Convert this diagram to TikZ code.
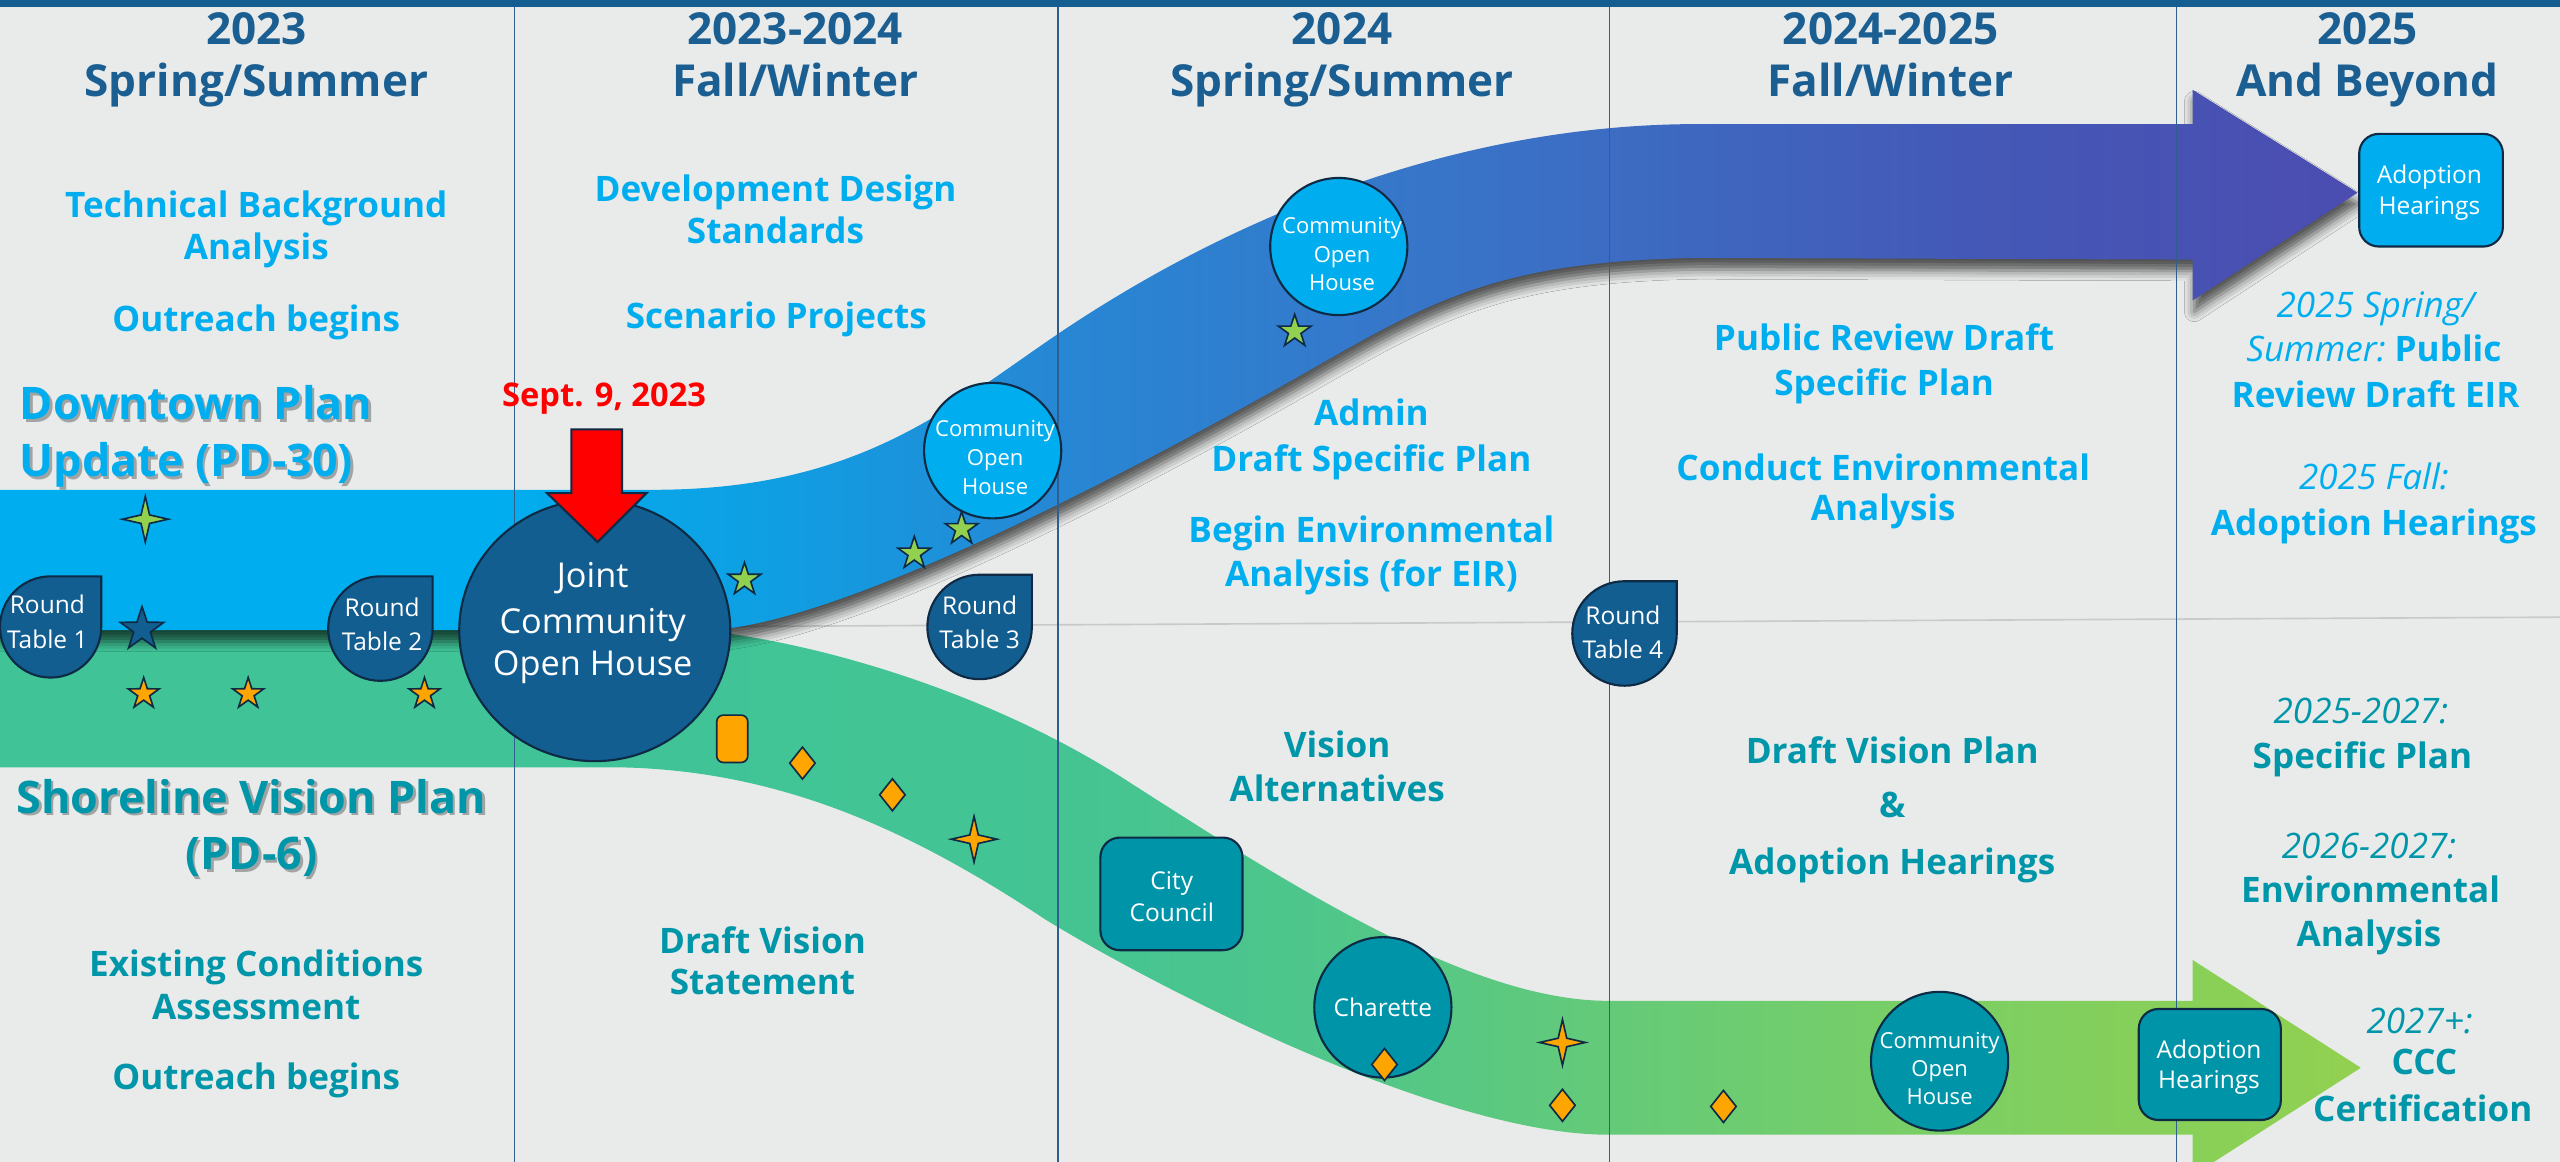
\documentclass[tikz,border=0pt]{standalone}
\usepackage{fontspec}
\setmainfont{Open Sans}
\usetikzlibrary{shapes.geometric,shadows.blur}
\definecolor{bg}{HTML}{E9EBEA}
\definecolor{bar}{HTML}{135D90}
\definecolor{hdr}{HTML}{1A5E92}
\definecolor{cyanT}{HTML}{00AEEF}
\definecolor{tealT}{HTML}{0096A9}
\definecolor{dkblue}{HTML}{135E91}
\definecolor{tealF}{HTML}{0094A8}
\definecolor{outl}{HTML}{0E2A44}
\definecolor{orng}{HTML}{FFA500}
\definecolor{lgreen}{HTML}{92D050}
\definecolor{vline}{HTML}{2F5F8F}
\definecolor{hline}{HTML}{C8CACA}
\definecolor{b0}{HTML}{00AEEF}
\definecolor{b1}{HTML}{0DA1E4}
\definecolor{b2}{HTML}{2787D4}
\definecolor{b3}{HTML}{3677CA}
\definecolor{b4}{HTML}{3D6BC2}
\definecolor{b5}{HTML}{4459B7}
\definecolor{b6}{HTML}{4B4DB0}
\definecolor{g0}{HTML}{40C497}
\definecolor{g1}{HTML}{44C493}
\definecolor{g2}{HTML}{4EC68B}
\definecolor{g3}{HTML}{64CA79}
\definecolor{g4}{HTML}{7CCF63}
\definecolor{g5}{HTML}{92D050}
\pgfdeclarehorizontalshading{blueband}{100bp}{color(0bp)=(b0); color(25bp)=(b0); color(35.4bp)=(b0); color(40.6bp)=(b1); color(47.5bp)=(b2); color(54.4bp)=(b3); color(59.6bp)=(b4); color(66.6bp)=(b5); color(75bp)=(b6); color(100bp)=(b6)}
\pgfdeclarehorizontalshading{greenband}{100bp}{color(0bp)=(g0); color(25bp)=(g0); color(39.9bp)=(g0); color(47.5bp)=(g1); color(52.7bp)=(g2); color(59.1bp)=(g3); color(66.5bp)=(g4); color(75bp)=(g5); color(100bp)=(g5)}
\newcommand{\tdrop}[4]{%
  \coordinate (#1) at (#2,#3);
  \filldraw[fill=dkblue, draw=outl, line width=1.3pt] (#2,#3) ++(0,-#4) -- ++(#4,0) -- ++(0,#4) arc[start angle=0, end angle=270, radius=#4] -- cycle;}
\begin{document}
\begin{tikzpicture}[x=1pt,y=-1pt,
  hd/.style={font=\bfseries\fontsize{27}{30}\selectfont, text=hdr, anchor=base, inner sep=0},
  cb/.style={font=\bfseries\fontsize{21.5}{26}\selectfont, text=cyanT, anchor=base, inner sep=0},
  tb/.style={font=\bfseries\fontsize{21.5}{26}\selectfont, text=tealT, anchor=base, inner sep=0},
  ci/.style={font=\fontsize{21.5}{26}\selectfont, text=cyanT, anchor=base, inner sep=0},
  ti/.style={font=\fontsize{21.5}{26}\selectfont, text=tealT, anchor=base, inner sep=0},
  bigt/.style={font=\bfseries\fontsize{27.5}{30}\selectfont, inner sep=0},
  wj/.style={font=\fontsize{21}{24}\selectfont, text=white, anchor=base, inner sep=0},
  ws/.style={font=\fontsize{13.5}{16}\selectfont, text=white, anchor=base, inner sep=0},
  wl/.style={font=\fontsize{15}{18}\selectfont, text=white, anchor=base, inner sep=0},
  dkcirc/.style={ellipse, fill=dkblue, draw=outl, line width=1.3pt, inner sep=0},
  cycirc/.style={ellipse, fill=cyanT, draw=outl, line width=1.3pt, inner sep=0},
  tlcirc/.style={ellipse, fill=tealF, draw=outl, line width=1.3pt, inner sep=0},
  tlbox/.style={rectangle, rounded corners=12pt, fill=tealF, draw=outl, line width=1.3pt, inner sep=0},
  cybox/.style={rectangle, rounded corners=12pt, fill=cyanT, draw=outl, line width=1.3pt, inner sep=0},
  starfive/.style={star, star points=5, star point ratio=2.6, draw=outl, line width=1pt, inner sep=0},
  starfour/.style={star, star points=4, star point ratio=3.8, draw=outl, line width=1pt, inner sep=0, minimum size=28pt},
  dia/.style={diamond, fill=orng, draw=outl, line width=1pt, inner sep=0, minimum width=16pt, minimum height=20pt},
  vl/.style={draw=vline, line width=0.8pt}
]
\useasboundingbox (0,0) rectangle (1568,711.7);
\fill[bg] (0,0) rectangle (1568,711.7);
\draw[hline, line width=1pt] (0,386) -- (1568,378);

% green band
\shade[shading=greenband] (0,384) -- (400,384) .. controls (480,386) and (600,420) .. (690,478) .. controls (790,542) and (900,613) .. (985,613) -- (1343,613) -- (1343,588) -- (1446,654) -- (1343,720) -- (1343,695) -- (985,695) .. controls (880,695) and (700,600) .. (640,563) .. controls (560,510) and (480,472) .. (380,470) -- (0,470) -- cycle;

% blue band
\shade[shading=blueband, blur shadow={shadow xshift=1pt, shadow yshift=-7pt, shadow blur radius=6pt, shadow opacity=65}] (0,300) -- (400,300) .. controls (520,300) and (575,255) .. (640,210) .. controls (760,127) and (900,76) .. (1040,76) -- (1343,76) -- (1343,55) -- (1444,118) -- (1343,184) -- (1343,159) -- (1040,158) .. controls (920,160) and (880,182) .. (800,228) .. controls (700,285) and (510,386) .. (430,386) -- (0,386) -- cycle;

% top bar and column lines
\fill[bar] (0,0) rectangle (1568,4.5);
\draw[vl] (315,4.5) -- (315,712);
\draw[vl] (648,4.5) -- (648,712);
\draw[vl] (986,4.5) -- (986,712);
\draw[vl] (1333,4.5) -- (1333,712);

% shapes
\node[dkcirc, minimum width=166pt, minimum height=160pt] (joint) at (364.3,386.2) {};
\node[cycirc, minimum width=84pt, minimum height=83pt] (coh1) at (608,276) {};
\node[cycirc, minimum width=84pt, minimum height=84pt] (coh2) at (820,151) {};
\node[tlcirc, minimum width=84pt, minimum height=85pt] (coh3) at (1188,650) {};
\node[tlcirc, minimum width=84pt, minimum height=86pt] (char) at (847,617) {};
\node[tlbox, minimum width=87pt, minimum height=69pt] (city) at (717.5,547.5) {};
\node[tlbox, minimum width=87pt, minimum height=68pt] (ahb) at (1353.5,652) {};
\node[cybox, minimum width=88pt, minimum height=69pt] (aht) at (1489,116.5) {};
\tdrop{rt1}{31}{384}{31}
\tdrop{rt2}{233}{385}{32}
\tdrop{rt3}{600}{384}{32}
\tdrop{rt4}{995}{388}{32}

% red arrow
\filldraw[fill=red, draw=outl, line width=1.3pt] (350,263) -- (381,263) -- (381,302) -- (396,302) -- (366,332) -- (335,302) -- (350,302) -- cycle;

% stars, diamonds
\node[starfour, fill=lgreen] (gs4) at (89,318) {};
\node[starfive, fill=dkblue, minimum size=28pt] (bs5) at (87,385.5) {};
\node[starfive, fill=orng, minimum size=20pt] (os1) at (88,425) {};
\node[starfive, fill=orng, minimum size=20pt] (os2) at (152,425) {};
\node[starfive, fill=orng, minimum size=20pt] (os3) at (260,425) {};
\node[starfive, fill=lgreen, minimum size=21pt] (gs1) at (456,355) {};
\node[starfive, fill=lgreen, minimum size=21pt] (gs2) at (560,339) {};
\node[starfive, fill=lgreen, minimum size=21pt] (gs3) at (589,324) {};
\node[starfive, fill=lgreen, minimum size=21pt] (gs5) at (793,203) {};
\node[starfour, fill=orng] (o4a) at (596.6,514) {};
\node[starfour, fill=orng] (o4b) at (957,638.5) {};
\node[rectangle, rounded corners=4pt, fill=orng, draw=outl, line width=1pt, minimum width=19pt, minimum height=29pt, inner sep=0] (orect) at (448.5,452.5) {};
\node[dia] (d1) at (491.5,467.4) {};
\node[dia] (d2) at (546.6,486.8) {};
\node[dia] (d3) at (848,652) {};
\node[dia] (d4) at (957,677) {};
\node[dia] (d5) at (1055.6,677.7) {};

% node labels
\node[wj] (jt1) at (363,360) {Joint};
\node[wj] (jt2) at (363,388) {Community};
\node[wj] (jt3) at (363,414) {Open House};
\node[ws] (c1a) at (609.5,267.4) {Community};
\node[ws] (c1b) at (609.5,285) {Open};
\node[ws] (c1c) at (609.5,303) {House};
\node[ws] (c2a) at (822,143.3) {Community};
\node[ws] (c2b) at (822,161) {Open};
\node[ws] (c2c) at (822,178) {House};
\node[ws] (c3a) at (1188,642) {Community};
\node[ws] (c3b) at (1188,659.3) {Open};
\node[ws] (c3c) at (1188,676.7) {House};
\node[wl] (cht) at (847,622.6) {Charette};
\node[wl] (cy1) at (717.7,545) {City};
\node[wl] (cy2) at (717.7,564.4) {Council};
\node[wl] (ab1) at (1353,648.4) {Adoption};
\node[wl] (ab2) at (1353,667) {Hearings};
\node[wl] (at1) at (1488,112.6) {Adoption};
\node[wl] (at2) at (1488,131.4) {Hearings};
\node[wl] (r1a) at (29,375.5) {Round};
\node[wl] (r1b) at (29,397) {Table 1};
\node[wl] (r2a) at (234,377.6) {Round};
\node[wl] (r2b) at (234,398.5) {Table 2};
\node[wl] (r3a) at (600,376.6) {Round};
\node[wl] (r3b) at (600,397) {Table 3};
\node[wl] (r4a) at (994,382.7) {Round};
\node[wl] (r4b) at (994,403.2) {Table 4};

% headers
\node[hd] (h1a) at (157,27) {2023};
\node[hd] (h1b) at (157,59) {Spring/Summer};
\node[hd] (h2a) at (487,27) {2023-2024};
\node[hd] (h2b) at (487,59) {Fall/Winter};
\node[hd] (h3a) at (822,27) {2024};
\node[hd] (h3b) at (822,59) {Spring/Summer};
\node[hd] (h4a) at (1158,27) {2024-2025};
\node[hd] (h4b) at (1158,59) {Fall/Winter};
\node[hd] (h5a) at (1450,27) {2025};
\node[hd] (h5b) at (1450,59) {And Beyond};

% column texts, downtown
\node[cb] (t1) at (157,133) {Technical Background};
\node[cb] (t2) at (157,159) {Analysis};
\node[cb] (t3) at (157,203) {Outreach begins};
\node[cb] (t4) at (475,123.5) {Development Design};
\node[cb] (t5) at (475,149) {Standards};
\node[cb] (t6) at (475.5,201) {Scenario Projects};
\node[cb] (t7) at (840,260.7) {Admin};
\node[cb] (t8) at (840,288.8) {Draft Specific Plan};
\node[cb] (t9) at (840,332) {Begin Environmental};
\node[cb] (t10) at (840,359) {Analysis (for EIR)};
\node[cb] (t11) at (1154,214.5) {Public Review Draft};
\node[cb] (t12) at (1154,242) {Specific Plan};
\node[cb] (t13) at (1153.5,294) {Conduct Environmental};
\node[cb] (t14) at (1153.5,319) {Analysis};
\node[ci] (t15) at (1455,194.5) {\itshape 2025 Spring/};
\node[ci] (t16) at (1454,221.5) {\itshape Summer:\upshape\bfseries\ Public};
\node[cb] (t17) at (1455,249.6) {Review Draft EIR};
\node[ci] (t18) at (1454,300) {\itshape 2025 Fall:};
\node[cb] (t19) at (1454,328) {Adoption Hearings};

% shoreline texts
\node[tb] (s1) at (157,598) {Existing Conditions};
\node[tb] (s2) at (157,624.6) {Assessment};
\node[tb] (s3) at (157,667.5) {Outreach begins};
\node[tb] (s4) at (467,583.8) {Draft Vision};
\node[tb] (s5) at (467,609.3) {Statement};
\node[tb] (s6) at (819,463.7) {Vision};
\node[tb] (s7) at (819,491) {Alternatives};
\node[tb] (s8) at (1159,467.4) {Draft Vision Plan};
\node[tb] (s9) at (1159,501) {\&};
\node[tb] (s10) at (1159,535.8) {Adoption Hearings};
\node[ti] (s11) at (1446,443) {\itshape 2025-2027:};
\node[tb] (s12) at (1447,470.6) {Specific Plan};
\node[ti] (s13) at (1451,526) {\itshape 2026-2027:};
\node[tb] (s14) at (1452,553) {Environmental};
\node[tb] (s15) at (1451,580) {Analysis};
\node[ti] (s16) at (1482,633) {\itshape 2027+:};
\node[tb] (s17) at (1485,658) {CCC};
\node[tb] (s18) at (1484,686.8) {Certification};

% plan titles with shadows
\node[bigt, text=black, text opacity=0.3, anchor=base west] (dps1) at (13.5,258.5) {Downtown Plan};
\node[bigt, text=black, text opacity=0.3, anchor=base west] (dps2) at (13.5,293.5) {Update (PD-30)};
\node[bigt, text=cyanT, anchor=base west] (dp1) at (12,257) {Downtown Plan};
\node[bigt, text=cyanT, anchor=base west] (dp2) at (12,292) {Update (PD-30)};
\node[bigt, text=black, text opacity=0.3, anchor=base] (svs1) at (155.5,499.5) {Shoreline Vision Plan};
\node[bigt, text=black, text opacity=0.3, anchor=base] (svs2) at (155.5,534.2) {(PD-6)};
\node[bigt, text=tealT, anchor=base] (sv1) at (154,498) {Shoreline Vision Plan};
\node[bigt, text=tealT, anchor=base] (sv2) at (154,532.7) {(PD-6)};

% date label
\node[font=\bfseries\fontsize{20}{24}\selectfont, text=red, anchor=base, inner sep=0] (sept) at (370,249) {Sept. 9, 2023};
\end{tikzpicture}
\end{document}
